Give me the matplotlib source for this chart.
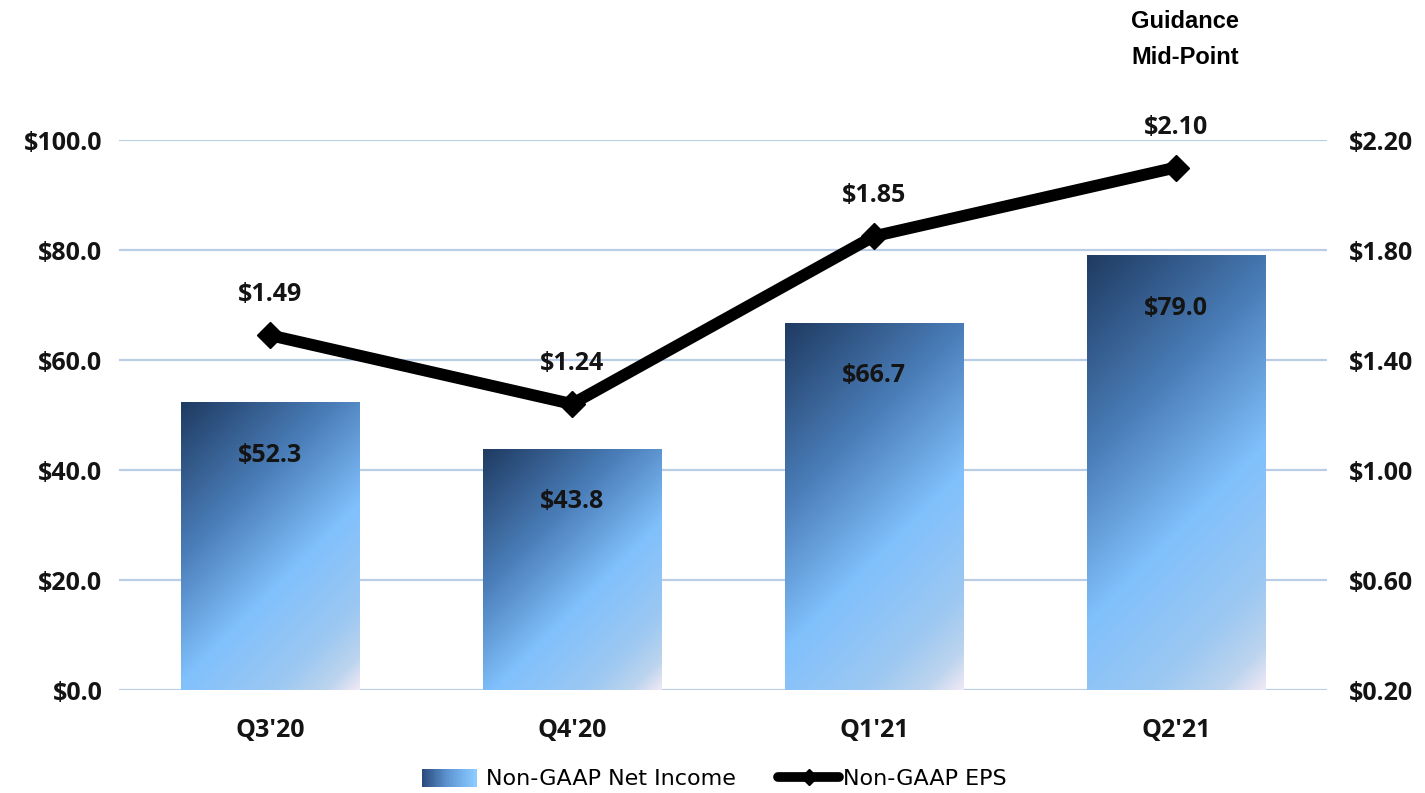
import numpy as np
import matplotlib
matplotlib.use("Agg")
import matplotlib.pyplot as plt
from matplotlib.colors import LinearSegmentedColormap
from matplotlib.legend_handler import HandlerBase
from matplotlib.patches import Rectangle, Patch
from matplotlib.lines import Line2D

quarters = ["Q3'20", "Q4'20", "Q1'21", "Q2'21"]
net_income = [52.3, 43.8, 66.7, 79.0]
eps = [1.49, 1.24, 1.85, 2.10]
left_ticks = [0, 20, 40, 60, 80, 100]
right_ticks = [0.20, 0.60, 1.00, 1.40, 1.80, 2.20]

BOLD = "Open Sans"
grid_col = "#b9cde5"
txt_col = "#141414"

bar_cmap = LinearSegmentedColormap.from_list(
    "bar", [(0.0, "#1f3b62"), (0.33, "#4a7db8"), (0.6, "#80c0fc"),
            (0.82, "#9cc8f2"), (0.93, "#bcd4ee"), (1.0, "#efe8f5")])
legend_cmap = LinearSegmentedColormap.from_list("leg", ["#2b4c7e", "#5f98d6", "#8ccaff"])

fig = plt.figure(figsize=(14.25, 7.93), dpi=100)
ax = fig.add_axes([119 / 1425, 1 - 690 / 793, (1327 - 119) / 1425, 550 / 793])
ax.set_xlim(-0.5, 3.5)
ax.set_ylim(0, 100)
ax2 = ax.twinx()
ax2.set_ylim(0.20, 2.20)

for a in (ax, ax2):
    for s in a.spines.values():
        s.set_visible(False)
    a.tick_params(length=0)

# gridlines
for v in left_ticks:
    ax.axhline(v, color=grid_col, lw=1.6, zorder=0)

tick_font = dict(fontfamily=BOLD, fontweight="bold", fontsize=18, color=txt_col)
ax.set_yticks(left_ticks)
ax.set_yticklabels([f"${v:.1f}" for v in left_ticks], **tick_font)
ax.tick_params(axis="y", pad=12)
ax2.set_yticks(right_ticks)
ax2.set_yticklabels([f"${v:.2f}" for v in right_ticks], **tick_font)
ax2.tick_params(axis="y", pad=16)
ax.set_xticks(range(len(quarters)))
ax.set_xticklabels(quarters, **tick_font)
ax.tick_params(axis="x", pad=20)

# bars with diagonal gradient
width = 0.59
bars = ax.bar(range(len(quarters)), net_income, width=width, color="none",
              edgecolor="none", zorder=2)
for b in bars:
    x0, y0 = b.get_x(), b.get_y()
    w, h = b.get_width(), b.get_height()
    (px0, py0), (px1, py1) = ax.transData.transform([(x0, y0), (x0 + w, y0 + h)])
    wp, hp = px1 - px0, py1 - py0
    xx = np.linspace(0, wp, 120)
    yy = np.linspace(0, hp, 240)  # distance from the top edge
    X, Y = np.meshgrid(xx, yy)
    t = (X + Y) / (wp + hp)
    ax.imshow(t, cmap=bar_cmap, vmin=0, vmax=1, aspect="auto",
              extent=(x0, x0 + w, y0, y0 + h), origin="upper",
              interpolation="bilinear", zorder=2)
    ax.annotate(f"${b.get_height():.1f}", (b.get_x() + w / 2, y0 + h),
                xytext=(0, -38), textcoords="offset points", ha="center",
                va="center", zorder=4, **tick_font)
ax.set_xlim(-0.5, 3.5)
ax.set_ylim(0, 100)

# EPS line
ax2.plot(range(len(quarters)), eps, color="black", lw=8.5, marker="D",
         markersize=13, solid_capstyle="butt", zorder=5)
for i, v in enumerate(eps):
    ax2.annotate(f"${v:.2f}", (i, v), xytext=(0, 29), textcoords="offset points",
                 ha="center", va="center", **tick_font)

for label, y in [("Guidance", 22), ("Mid-Point", 58)]:
    fig.text(1185 / 1425, 1 - y / 793, label, ha="center", va="center",
             fontfamily="Liberation Sans", fontweight="bold", fontsize=17)


class GradientHandler(HandlerBase):
    def create_artists(self, legend, orig_handle, xdescent, ydescent, width,
                       height, fontsize, trans):
        n = 30
        arts = []
        for i in range(n):
            r = Rectangle((-xdescent + i * width / n, -ydescent - 0.1 * height),
                          width / n + 0.3, height * 1.15,
                          facecolor=legend_cmap(i / (n - 1)),
                          edgecolor="none", transform=trans)
            arts.append(r)
        return arts


class LineHandler(HandlerBase):
    def create_artists(self, legend, orig_handle, xdescent, ydescent, width,
                       height, fontsize, trans):
        y = -ydescent + height / 2
        x_end = -xdescent + width + 0.3 * fontsize
        ln = Line2D([-xdescent, x_end], [y, y], color="black", lw=7,
                    solid_capstyle="round", transform=trans)
        mk = Line2D([(-xdescent + x_end) / 2], [y], color="black", marker="D",
                    markersize=8, lw=0, transform=trans)
        return [ln, mk]


h1 = Patch(label="Non-GAAP Net Income")
h2 = Line2D([], [], color="black", label="Non-GAAP EPS")
fig.legend([h1, h2], ["Non-GAAP Net Income", "Non-GAAP EPS"],
           handler_map={Patch: GradientHandler(), Line2D: LineHandler()},
           loc="center", bbox_to_anchor=(714 / 1425, 1 - 779 / 793), ncol=2,
           frameon=False, prop={"family": "DejaVu Sans", "size": 16},
           handlelength=2.45, handletextpad=0.45, columnspacing=1.9)

fig.savefig("out.png", dpi=100, facecolor="white")
